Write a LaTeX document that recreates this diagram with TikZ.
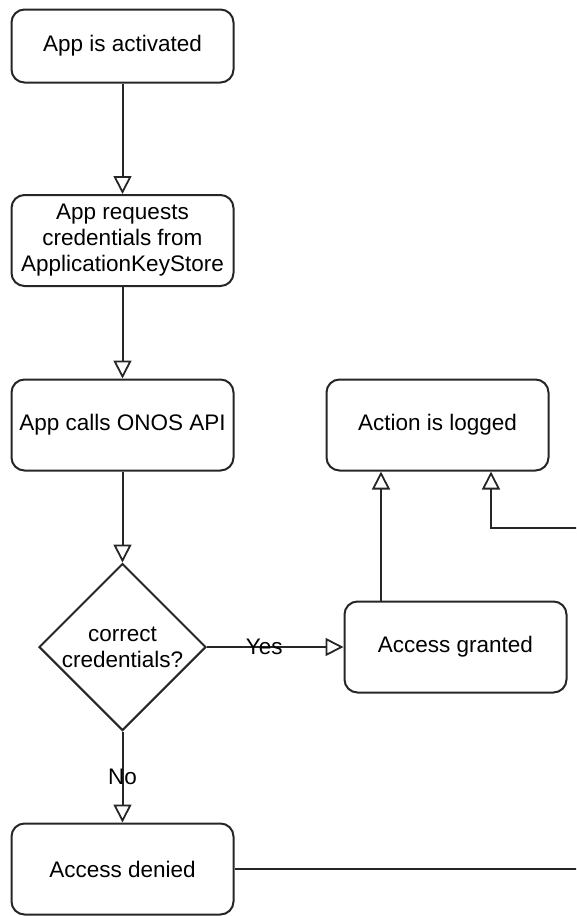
\documentclass[tikz,border=0pt]{standalone}
\usepackage{fontspec}
\setmainfont{Liberation Sans}
\usetikzlibrary{arrows.meta,shapes.geometric}
\begin{document}
\begin{tikzpicture}[x=1pt,y=-1pt,
  every node/.style={font=\fontsize{22.5}{26}\selectfont, text=black},
  stepbox/.style={draw=black!85, line width=2pt, rounded corners=13pt,
    minimum width=222pt, minimum height=91pt, align=center, inner sep=2pt},
  decision/.style={draw=black!85, line width=2pt, diamond, aspect=1,
    minimum width=167pt, minimum height=167pt, inner sep=0pt, align=center},
  flow/.style={draw=black!85, line width=2pt,
    -{Triangle[open, length=18pt, width=18pt, line width=1.8pt]}},
  lbl/.style={inner sep=0pt}]
\useasboundingbox (0,0) rectangle (576,916);
\clip (0,0) rectangle (576,916);

\node[stepbox, minimum height=73pt] (act) at (122.5,46) {App is activated};
\node[stepbox] (req) at (122.5,240.5) {App requests\\credentials from\\ApplicationKeyStore};
\node[stepbox] (api) at (122.5,425) {App calls ONOS API};
\node[decision] (chk) at (122.5,647) {correct\\credentials?};
\node[stepbox] (deny) at (122.5,869) {Access denied};
\node[stepbox] (log) at (437.5,425) {Action is logged};
\node[stepbox] (grant) at (455.5,647) {Access granted};

\coordinate (offA) at (600,869);
\coordinate (offB) at (600,528);
\coordinate (login) at (491,528);

\draw[flow] (act) -- (req);
\draw[flow] (req) -- (api);
\draw[flow] (api) -- (chk);
\draw[flow] (chk) -- node[lbl, pos=0.42] {Yes} (grant);
\draw[flow] (chk) -- node[lbl, pos=0.5] {No} (deny);
\draw[flow] (grant.north -| 381,0) -- (log.south -| 381,0);
\draw[flow] (deny.east) -- (offA) -- (offB) -- (login) -- (log.south -| login);
\end{tikzpicture}
\end{document}
